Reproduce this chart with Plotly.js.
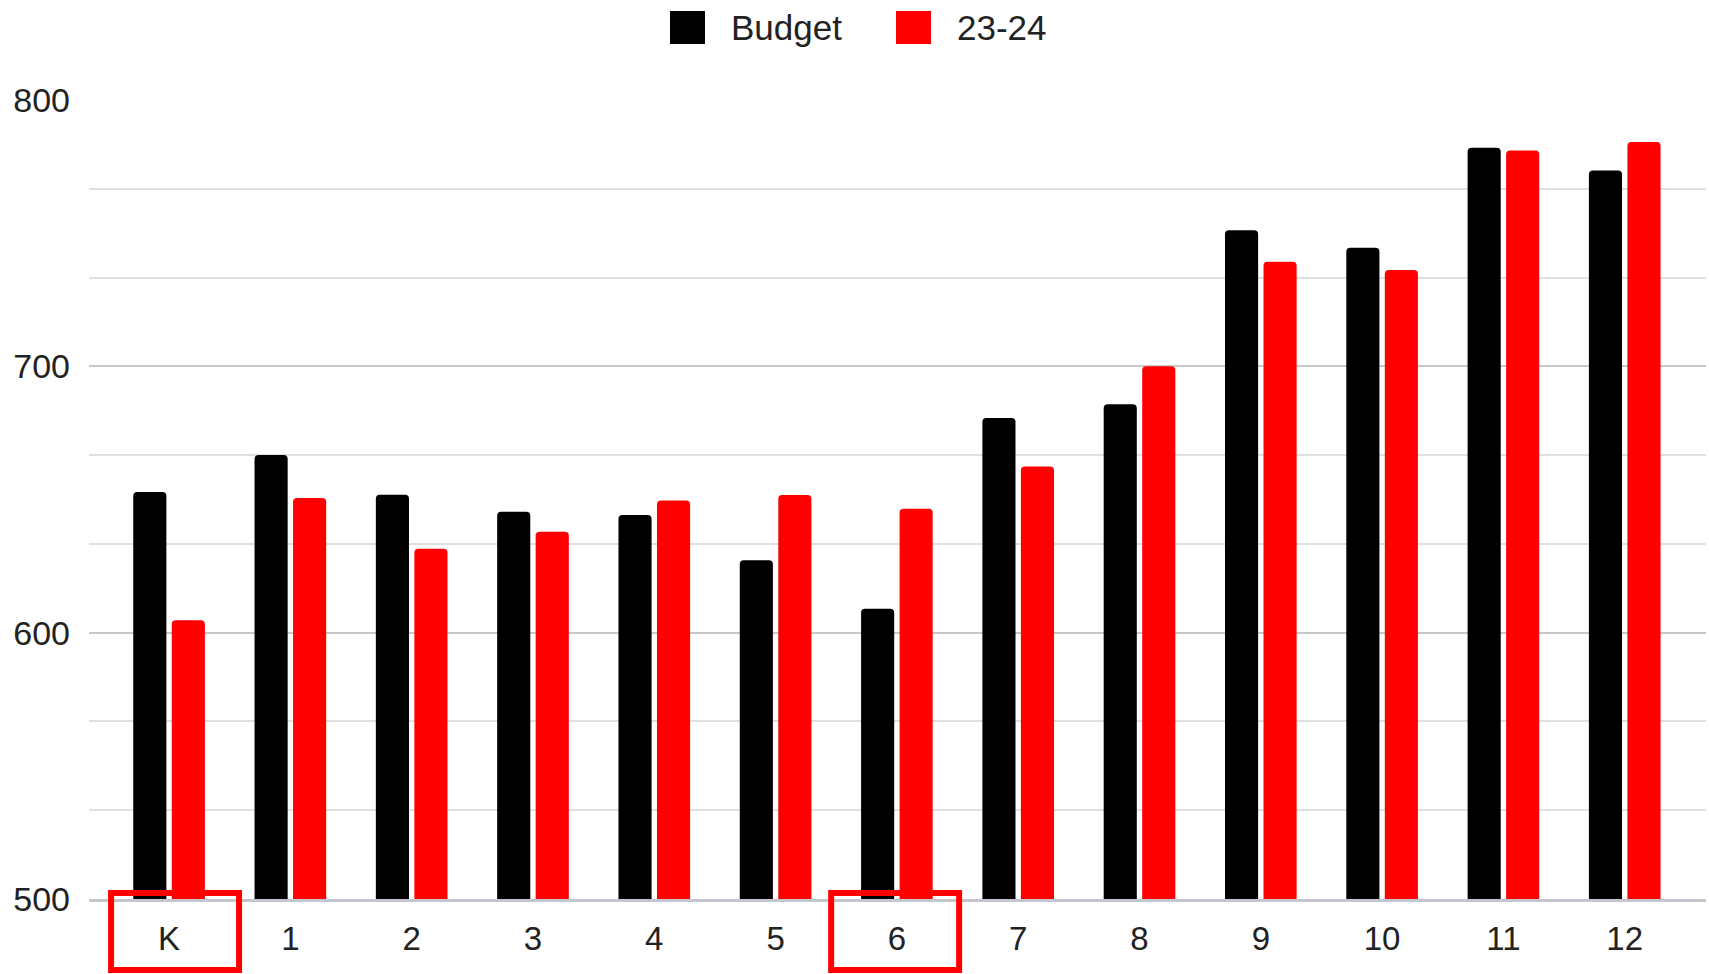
<!DOCTYPE html>
<html>
<head>
<meta charset="utf-8">
<script src="https://cdn.plot.ly/plotly-3.0.1.min.js"></script>
<style>html,body{margin:0;padding:0;background:#fff;}#chart{width:1709px;height:974px;}</style>
</head>
<body>
<div id="chart"></div>
<script>
const categories = ['K','1','2','3','4','5','6','7','8','9','10','11','12'];
const budget = [652.8, 666.7, 651.8, 645.4, 644.2, 627.2, 609.0, 680.6, 685.8, 751.1, 744.5, 782.1, 773.5];
const year2324 = [604.7, 650.6, 631.5, 637.9, 649.6, 651.7, 646.5, 662.4, 700.0, 739.3, 736.2, 781.0, 784.2];
const seriesNames = ['Budget', '23-24'];
const highlighted = ['K', '6'];

const FONT = 'Liberation Sans, Arial, sans-serif';

const traces = [
  {type:'bar', name:seriesNames[0], x:categories, y:budget, marker:{color:'#000000', cornerradius:4}, showlegend:false},
  {type:'bar', name:seriesNames[1], x:categories, y:year2324, marker:{color:'#ff0000', cornerradius:4}, showlegend:false}
];

const shapes = [];
const annotations = [];
// highlight boxes around category labels (offsets relative to category centre)
const boxOffsets = [[-0.478, 0.577], [-0.542, 0.513]];
highlighted.forEach((c, k) => {
  const i = categories.indexOf(c);
  shapes.push({type:'rect', xref:'x', yref:'paper', x0:i+boxOffsets[k][0], x1:i+boxOffsets[k][1], y0:-0.0889, y1:0.0075,
    line:{color:'#ff0000', width:6}, fillcolor:'rgba(0,0,0,0)'});
});
// legend swatches + labels
const legendItems = [
  {name:seriesNames[0], color:'#000000', x0:670, x1:705, tx:729},
  {name:seriesNames[1], color:'#ff0000', x0:896, x1:931, tx:955}
];
legendItems.forEach(it => {
  shapes.push({type:'rect', xref:'paper', yref:'paper',
    x0:(it.x0-89)/1617, x1:(it.x1-89)/1617, y0:(899-44)/799, y1:(899-11)/799,
    fillcolor:it.color, line:{width:0}, layer:'above'});
  annotations.push({xref:'paper', yref:'paper', x:(it.tx-89)/1617, y:(899-27)/799,
    xanchor:'left', yanchor:'middle', showarrow:false, text:it.name,
    font:{family:FONT, size:35, color:'#222222'}});
});

const layout = {
  width:1709, height:974,
  margin:{l:89, r:3, t:100, b:75},
  paper_bgcolor:'#ffffff', plot_bgcolor:'#ffffff',
  font:{family:FONT, size:33, color:'#222222'},
  barmode:'group', bargap:0.365, bargroupgap:0.14,
  showlegend:false,
  xaxis:{type:'category', range:[-0.66, 12.67], showgrid:false, zeroline:false,
    showline:true, linecolor:'#c3c6cc', linewidth:3, ticks:'', ticklabelstandoff:8,
    tickfont:{family:FONT, size:33, color:'#222222'}, fixedrange:true},
  yaxis:{range:[500, 800], tick0:500, dtick:100, showgrid:true, gridcolor:'#c8c8c8', gridwidth:2,
    zeroline:false, showline:false, ticks:'', ticklabelstandoff:18,
    tickfont:{family:FONT, size:34, color:'#222222'},
    minor:{tick0:500, dtick:100/3, showgrid:true, gridcolor:'#e0e0e0', gridwidth:2, ticks:''}},
  shapes:shapes,
  annotations:annotations
};

Plotly.newPlot('chart', traces, layout, {displayModeBar:false, staticPlot:true});
</script>
</body>
</html>
